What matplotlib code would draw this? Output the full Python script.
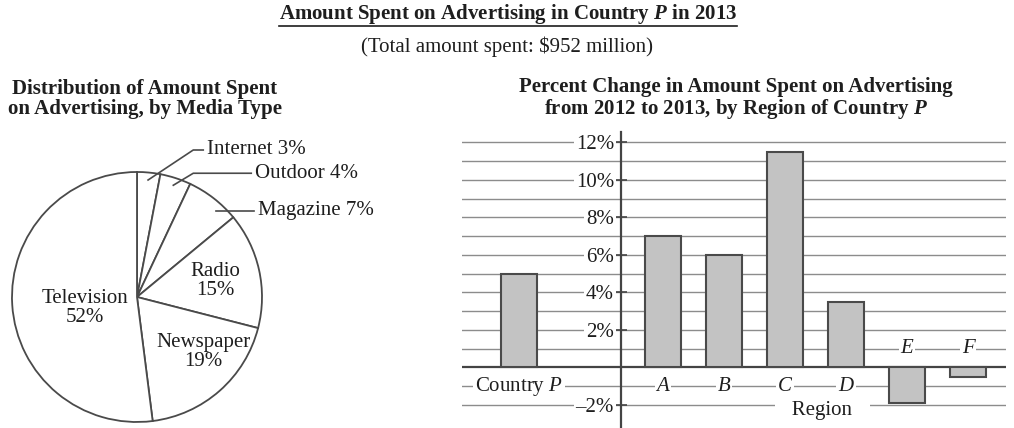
import matplotlib
matplotlib.use("Agg")
import matplotlib.pyplot as plt
import numpy as np
from matplotlib.lines import Line2D

plt.rcParams["font.family"] = "Liberation Serif"
plt.rcParams["mathtext.fontset"] = "custom"
plt.rcParams["mathtext.rm"] = "Liberation Serif"
plt.rcParams["mathtext.it"] = "Liberation Serif:italic"
plt.rcParams["mathtext.sf"] = "Liberation Serif:bold:italic"

# data
media = ["Internet", "Outdoor", "Magazine", "Radio", "Newspaper", "Television"]
media_share = [3, 4, 7, 15, 19, 52]

regions = ["A", "B", "C", "D", "E", "F"]
region_change = [7, 6, 11.5, 3.5, -1.9, -0.5]
country_change = 5
y_ticks = [-2, 2, 4, 6, 8, 10, 12]

TXT = "#1e1e1e"
EDGE = "#4a4a4a"
FS = 15

fig = plt.figure(figsize=(10.14, 4.28), dpi=100)

# titles
title = fig.text(508 / 1014, 1 - 14 / 428,
                 r"Amount Spent on Advertising in Country $\mathsf{P}$ in 2013",
                 ha="center", va="center", fontsize=FS, fontweight="bold", color=TXT)
fig.text(507 / 1014, 1 - 47 / 428, "(Total amount spent: \\$952 million)",
         ha="center", va="center", fontsize=FS, color=TXT)
fig.text(145 / 1014, 1 - 99 / 428,
         "Distribution of Amount Spent\non Advertising, by Media Type",
         ha="center", va="center", fontsize=FS, fontweight="bold", color=TXT,
         linespacing=1.05)
fig.text(736 / 1014, 1 - 99 / 428,
         "Percent Change in Amount Spent on Advertising\n"
         r"from 2012 to 2013, by Region of Country $\mathsf{P}$",
         ha="center", va="center", fontsize=FS, fontweight="bold", color=TXT,
         linespacing=1.05)

# ---- pie ----
ax1 = fig.add_axes([0, 0, 400 / 1014, 288 / 428])
wedges, _ = ax1.pie(media_share, startangle=90, counterclock=False,
                    colors=["white"] * len(media),
                    wedgeprops=dict(edgecolor=EDGE, linewidth=1.3))
ax1.set_xlim(-137 / 125, (400 - 137) / 125)
ax1.set_ylim(-(428 - 297) / 125, (297 - 140) / 125)
ax1.set_aspect("equal")
ax1.axis("off")

inner_pos = {"Television": (-0.42, -0.09), "Radio": (0.63, 0.13),
             "Newspaper": (0.53, -0.44)}
outer_pos = {"Internet": (0.56, 1.176, 0.45), "Outdoor": (0.944, 0.99, 0.45),
             "Magazine": (0.968, 0.688, None)}

for name, share, w in zip(media, media_share, wedges):
    if name in inner_pos:
        x, y = inner_pos[name]
        ax1.text(x, y, f"{name}\n{share}%", ha="center", va="center",
                 fontsize=FS, color=TXT, linespacing=1.0)
    else:
        tx, ty, ex = outer_pos[name]
        if ex is None:
            xs = [np.sqrt(1 - ty ** 2) - 0.09, tx - 0.03]
            ys = [ty, ty]
        else:
            mid = np.deg2rad((w.theta1 + w.theta2) / 2)
            xs = [0.94 * np.cos(mid), ex, tx - 0.03]
            ys = [0.94 * np.sin(mid), ty, ty]
        ax1.plot(xs, ys, color=EDGE, lw=1.2, clip_on=False)
        ax1.text(tx, ty, f"{name} {share}%", ha="left", va="center",
                 fontsize=FS, color=TXT, clip_on=False)

# ---- bar chart ----
ax2 = fig.add_axes([462 / 1014, 0, (1006 - 462) / 1014, (428 - 132) / 428])
ax2.set_xlim(-3.295, 5.623)
ax2.set_ylim(-3.24, 12.55)

for v in range(-2, 13):
    if v != 0:
        ax2.axhline(v, color="#8c8c8c", lw=1.0, zorder=0.5)
ax2.axhline(0, color="#444444", lw=1.6, zorder=2.6)

country_x = -2.36
axis_x = -0.69
region_x = np.arange(len(regions))

ax2.bar([country_x], [country_change], width=0.6, color="#c3c3c3",
        edgecolor=EDGE, linewidth=1.5, zorder=3)
ax2.bar(region_x, region_change, width=0.6, color="#c3c3c3",
        edgecolor=EDGE, linewidth=1.5, zorder=3)

for s in ["top", "right", "bottom"]:
    ax2.spines[s].set_visible(False)
ax2.spines["left"].set_position(("data", axis_x))
ax2.spines["left"].set_color("#444444")
ax2.spines["left"].set_linewidth(1.6)
ax2.set_xticks([])
ax2.set_yticks(y_ticks)
ax2.set_yticklabels([f"{v}%".replace("-", "\u2013") for v in y_ticks])
ax2.tick_params(axis="y", direction="inout", length=8, width=1.2,
                color="#444444", labelsize=FS, labelcolor=TXT, pad=1)
for lbl in ax2.get_yticklabels():
    lbl.set_bbox(dict(facecolor="white", edgecolor="none", pad=1.5))

lab_box = dict(facecolor="white", edgecolor="none", pad=1.5)
ax2.text(country_x, -1, r"Country $\mathit{P}$", ha="center", va="center",
         fontsize=FS, color=TXT, bbox=lab_box, zorder=4)
for x, name, val in zip(region_x, regions, region_change):
    ax2.text(x, -1 if val >= 0 else 1, name, ha="center", va="center",
             fontsize=FS, fontstyle="italic", color=TXT, bbox=lab_box, zorder=4)
ax2.text(2.61, -2.3, "   Region   ", ha="center", va="center", fontsize=FS,
         color=TXT, bbox=dict(facecolor="white", edgecolor="none", pad=1),
         zorder=4)

# underline the main title
fig.canvas.draw()
bb = title.get_window_extent()
fig.add_artist(Line2D([bb.x0 / 1014, bb.x1 / 1014], [1 - 26 / 428, 1 - 26 / 428],
                      color=TXT, lw=1.2))

fig.savefig("out.png", dpi=100)
